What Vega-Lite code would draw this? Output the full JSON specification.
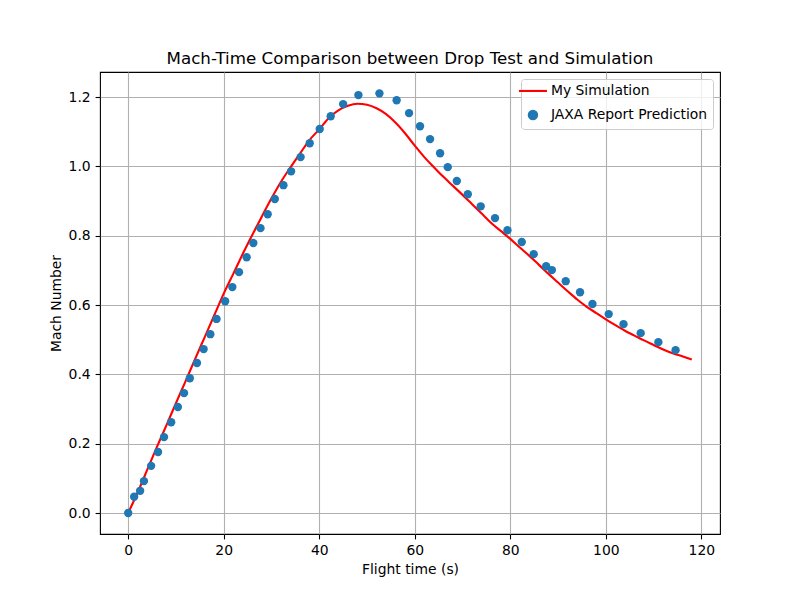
{
  "$schema": "https://vega.github.io/schema/vega-lite/v6.json",
  "width": 620,
  "height": 462,
  "autosize": {"type": "none"},
  "padding": {"left": 100, "top": 72, "right": 80, "bottom": 66},
  "background": "white",
  "title": {
    "text": "Mach-Time Comparison between Drop Test and Simulation",
    "font": "DejaVu Sans",
    "fontSize": 16.7,
    "fontWeight": "normal",
    "color": "black",
    "anchor": "middle",
    "baseline": "bottom",
    "offset": -13
  },
  "config": {
    "view": {"stroke": "black", "strokeWidth": 1.1},
    "axis": {
      "domain": false,
      "grid": true,
      "gridColor": "#b0b0b0",
      "gridWidth": 1.1,
      "tickColor": "black",
      "tickWidth": 1.1,
      "tickSize": 4.9,
      "labelPadding": 4.9,
      "labelFont": "DejaVu Sans",
      "labelFontSize": 13.9,
      "labelColor": "black",
      "titleFont": "DejaVu Sans",
      "titleFontSize": 13.9,
      "titleFontWeight": "normal",
      "titleColor": "black",
      "titlePadding": 5
    }
  },
  "datasets": {
    "sim": [
      {"t": 0, "mach": 0.0, "series": "My Simulation"},
      {"t": 2, "mach": 0.06, "series": "My Simulation"},
      {"t": 4, "mach": 0.125, "series": "My Simulation"},
      {"t": 6, "mach": 0.19, "series": "My Simulation"},
      {"t": 8, "mach": 0.253, "series": "My Simulation"},
      {"t": 10, "mach": 0.317, "series": "My Simulation"},
      {"t": 12, "mach": 0.38, "series": "My Simulation"},
      {"t": 14, "mach": 0.444, "series": "My Simulation"},
      {"t": 16, "mach": 0.507, "series": "My Simulation"},
      {"t": 18, "mach": 0.57, "series": "My Simulation"},
      {"t": 20, "mach": 0.633, "series": "My Simulation"},
      {"t": 22, "mach": 0.69, "series": "My Simulation"},
      {"t": 24, "mach": 0.748, "series": "My Simulation"},
      {"t": 26, "mach": 0.803, "series": "My Simulation"},
      {"t": 28, "mach": 0.856, "series": "My Simulation"},
      {"t": 30, "mach": 0.908, "series": "My Simulation"},
      {"t": 32, "mach": 0.956, "series": "My Simulation"},
      {"t": 34, "mach": 0.998, "series": "My Simulation"},
      {"t": 36, "mach": 1.038, "series": "My Simulation"},
      {"t": 38, "mach": 1.077, "series": "My Simulation"},
      {"t": 40, "mach": 1.107, "series": "My Simulation"},
      {"t": 42, "mach": 1.14, "series": "My Simulation"},
      {"t": 44, "mach": 1.162, "series": "My Simulation"},
      {"t": 46, "mach": 1.175, "series": "My Simulation"},
      {"t": 48, "mach": 1.181, "series": "My Simulation"},
      {"t": 50, "mach": 1.178, "series": "My Simulation"},
      {"t": 52, "mach": 1.168, "series": "My Simulation"},
      {"t": 54, "mach": 1.151, "series": "My Simulation"},
      {"t": 56, "mach": 1.126, "series": "My Simulation"},
      {"t": 58, "mach": 1.095, "series": "My Simulation"},
      {"t": 60, "mach": 1.06, "series": "My Simulation"},
      {"t": 62, "mach": 1.027, "series": "My Simulation"},
      {"t": 64, "mach": 0.998, "series": "My Simulation"},
      {"t": 66, "mach": 0.97, "series": "My Simulation"},
      {"t": 68, "mach": 0.944, "series": "My Simulation"},
      {"t": 70, "mach": 0.918, "series": "My Simulation"},
      {"t": 72, "mach": 0.891, "series": "My Simulation"},
      {"t": 74, "mach": 0.864, "series": "My Simulation"},
      {"t": 76, "mach": 0.837, "series": "My Simulation"},
      {"t": 78, "mach": 0.814, "series": "My Simulation"},
      {"t": 80, "mach": 0.791, "series": "My Simulation"},
      {"t": 82, "mach": 0.766, "series": "My Simulation"},
      {"t": 84, "mach": 0.742, "series": "My Simulation"},
      {"t": 86, "mach": 0.716, "series": "My Simulation"},
      {"t": 88, "mach": 0.69, "series": "My Simulation"},
      {"t": 90, "mach": 0.665, "series": "My Simulation"},
      {"t": 92, "mach": 0.64, "series": "My Simulation"},
      {"t": 94, "mach": 0.616, "series": "My Simulation"},
      {"t": 96, "mach": 0.595, "series": "My Simulation"},
      {"t": 98, "mach": 0.577, "series": "My Simulation"},
      {"t": 100, "mach": 0.559, "series": "My Simulation"},
      {"t": 102, "mach": 0.542, "series": "My Simulation"},
      {"t": 104, "mach": 0.526, "series": "My Simulation"},
      {"t": 106, "mach": 0.512, "series": "My Simulation"},
      {"t": 108, "mach": 0.498, "series": "My Simulation"},
      {"t": 110, "mach": 0.485, "series": "My Simulation"},
      {"t": 112, "mach": 0.472, "series": "My Simulation"},
      {"t": 114, "mach": 0.461, "series": "My Simulation"},
      {"t": 116, "mach": 0.452, "series": "My Simulation"},
      {"t": 118, "mach": 0.443, "series": "My Simulation"}
    ],
    "jaxa": [
      {"t": 0.0, "mach": 0.0, "series": "JAXA Report Prediction"},
      {"t": 1.25, "mach": 0.047, "series": "JAXA Report Prediction"},
      {"t": 2.5, "mach": 0.064, "series": "JAXA Report Prediction"},
      {"t": 3.3, "mach": 0.092, "series": "JAXA Report Prediction"},
      {"t": 4.8, "mach": 0.136, "series": "JAXA Report Prediction"},
      {"t": 6.25, "mach": 0.176, "series": "JAXA Report Prediction"},
      {"t": 7.5, "mach": 0.219, "series": "JAXA Report Prediction"},
      {"t": 9.0, "mach": 0.262, "series": "JAXA Report Prediction"},
      {"t": 10.4, "mach": 0.306, "series": "JAXA Report Prediction"},
      {"t": 11.7, "mach": 0.346, "series": "JAXA Report Prediction"},
      {"t": 12.9, "mach": 0.389, "series": "JAXA Report Prediction"},
      {"t": 14.4, "mach": 0.433, "series": "JAXA Report Prediction"},
      {"t": 15.8, "mach": 0.473, "series": "JAXA Report Prediction"},
      {"t": 17.2, "mach": 0.516, "series": "JAXA Report Prediction"},
      {"t": 18.5, "mach": 0.56, "series": "JAXA Report Prediction"},
      {"t": 20.3, "mach": 0.611, "series": "JAXA Report Prediction"},
      {"t": 21.8, "mach": 0.652, "series": "JAXA Report Prediction"},
      {"t": 23.2, "mach": 0.695, "series": "JAXA Report Prediction"},
      {"t": 24.8, "mach": 0.738, "series": "JAXA Report Prediction"},
      {"t": 26.2, "mach": 0.779, "series": "JAXA Report Prediction"},
      {"t": 27.7, "mach": 0.822, "series": "JAXA Report Prediction"},
      {"t": 29.2, "mach": 0.862, "series": "JAXA Report Prediction"},
      {"t": 30.7, "mach": 0.906, "series": "JAXA Report Prediction"},
      {"t": 32.5, "mach": 0.946, "series": "JAXA Report Prediction"},
      {"t": 34.1, "mach": 0.986, "series": "JAXA Report Prediction"},
      {"t": 36.1, "mach": 1.027, "series": "JAXA Report Prediction"},
      {"t": 38.0, "mach": 1.067, "series": "JAXA Report Prediction"},
      {"t": 40.1, "mach": 1.108, "series": "JAXA Report Prediction"},
      {"t": 42.4, "mach": 1.145, "series": "JAXA Report Prediction"},
      {"t": 45.0, "mach": 1.18, "series": "JAXA Report Prediction"},
      {"t": 48.2, "mach": 1.206, "series": "JAXA Report Prediction"},
      {"t": 52.6, "mach": 1.211, "series": "JAXA Report Prediction"},
      {"t": 56.2, "mach": 1.191, "series": "JAXA Report Prediction"},
      {"t": 58.8, "mach": 1.154, "series": "JAXA Report Prediction"},
      {"t": 61.1, "mach": 1.116, "series": "JAXA Report Prediction"},
      {"t": 63.2, "mach": 1.079, "series": "JAXA Report Prediction"},
      {"t": 65.3, "mach": 1.038, "series": "JAXA Report Prediction"},
      {"t": 66.9, "mach": 0.998, "series": "JAXA Report Prediction"},
      {"t": 68.8, "mach": 0.958, "series": "JAXA Report Prediction"},
      {"t": 71.1, "mach": 0.92, "series": "JAXA Report Prediction"},
      {"t": 73.8, "mach": 0.885, "series": "JAXA Report Prediction"},
      {"t": 76.8, "mach": 0.851, "series": "JAXA Report Prediction"},
      {"t": 79.4, "mach": 0.816, "series": "JAXA Report Prediction"},
      {"t": 82.4, "mach": 0.782, "series": "JAXA Report Prediction"},
      {"t": 84.9, "mach": 0.747, "series": "JAXA Report Prediction"},
      {"t": 87.5, "mach": 0.712, "series": "JAXA Report Prediction"},
      {"t": 88.7, "mach": 0.701, "series": "JAXA Report Prediction"},
      {"t": 91.6, "mach": 0.669, "series": "JAXA Report Prediction"},
      {"t": 94.6, "mach": 0.637, "series": "JAXA Report Prediction"},
      {"t": 97.2, "mach": 0.603, "series": "JAXA Report Prediction"},
      {"t": 100.6, "mach": 0.574, "series": "JAXA Report Prediction"},
      {"t": 103.7, "mach": 0.545, "series": "JAXA Report Prediction"},
      {"t": 107.3, "mach": 0.519, "series": "JAXA Report Prediction"},
      {"t": 111.0, "mach": 0.493, "series": "JAXA Report Prediction"},
      {"t": 114.6, "mach": 0.47, "series": "JAXA Report Prediction"}
    ]
  },
  "encoding": {
    "x": {
      "field": "t",
      "type": "quantitative",
      "title": "Flight time (s)",
      "scale": {"domain": [-5.9, 123.9], "nice": false, "zero": false},
      "axis": {"values": [0, 20, 40, 60, 80, 100, 120], "format": "d"}
    },
    "y": {
      "field": "mach",
      "type": "quantitative",
      "title": "Mach Number",
      "scale": {"domain": [-0.0606, 1.2726], "nice": false, "zero": false},
      "axis": {"values": [0, 0.2, 0.4, 0.6, 0.8, 1.0, 1.2], "format": ".1f"}
    },
    "color": {
      "field": "series",
      "type": "nominal",
      "scale": {
        "domain": ["My Simulation", "JAXA Report Prediction"],
        "range": ["#ff0000", "#1f77b4"]
      },
      "legend": {
        "title": null,
        "orient": "top-right",
        "offset": 7,
        "fillColor": "rgba(255,255,255,0.8)",
        "strokeColor": "#cccccc",
        "cornerRadius": 3,
        "padding": 5,
        "labelFont": "DejaVu Sans",
        "labelFontSize": 13.9,
        "labelColor": "black",
        "labelOffset": 11,
        "rowPadding": 8,
        "encode": {
          "symbols": {
            "update": {
              "shape": {"signal": "datum.value === 'My Simulation' ? 'stroke' : 'circle'"},
              "size": {"signal": "datum.value === 'My Simulation' ? 784 : 70"},
              "fill": {"signal": "datum.value === 'My Simulation' ? 'transparent' : '#1f77b4'"},
              "stroke": {"signal": "datum.value === 'My Simulation' ? '#ff0000' : 'transparent'"},
              "strokeWidth": {"value": 2.1},
              "opacity": {"value": 1}
            }
          }
        }
      }
    }
  },
  "layer": [
    {
      "data": {"name": "sim"},
      "mark": {"type": "line", "strokeWidth": 2.1, "interpolate": "monotone"}
    },
    {
      "data": {"name": "jaxa"},
      "mark": {"type": "point", "shape": "circle", "filled": true, "opacity": 1, "size": 70}
    }
  ]
}
